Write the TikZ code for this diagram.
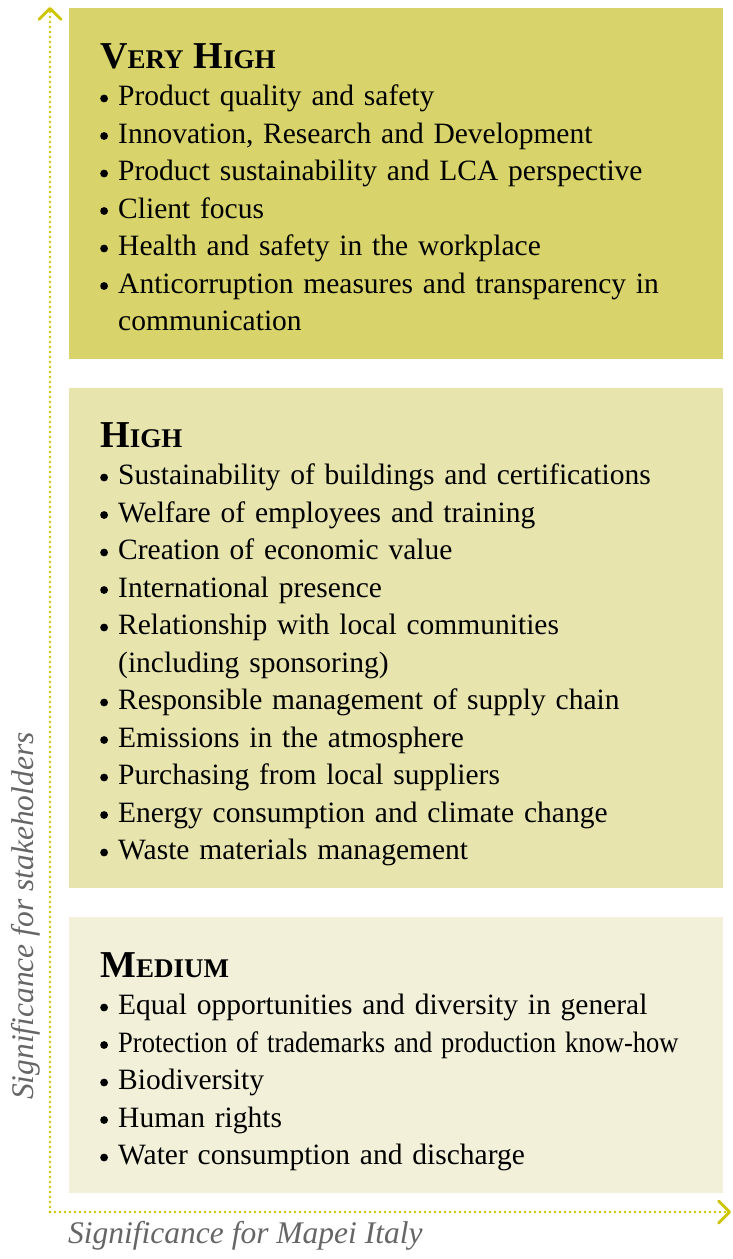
\documentclass[tikz,border=0pt]{standalone}
\usepackage{fontspec}
\setmainfont{Liberation Serif}
\usepackage{xcolor}
\usepackage{graphicx}
\usepackage{tikz}
\usetikzlibrary{arrows.meta,calc,positioning}
\definecolor{vhfill}{HTML}{D8D36A}
\definecolor{hifill}{HTML}{E7E4AE}
\definecolor{mdfill}{HTML}{F2F0D8}
\definecolor{axisyel}{HTML}{CFC400}
\definecolor{labgray}{HTML}{666666}
\newcommand\lvlcaps[2]{{\fontsize{38}{38}\selectfont\bfseries #1}{\fontsize{27}{27}\selectfont\bfseries #2}}
\newcommand\itmdot{\tikz[baseline={(0pt,-7pt)}]\fill (0pt,0pt) circle (3.9pt);}
\newcommand\itm[1]{\par\hangindent=18pt\hangafter=1\noindent\makebox[18pt][l]{\itmdot}#1\par}

\begin{document}
\begin{tikzpicture}[
  x=1pt,y=-1pt,
  band/.style={anchor=north west,inner sep=0pt,minimum width=654pt,draw=none},
  entry/.style={anchor=base west,inner sep=0pt,text width=620pt,align=left,
    font=\fontsize{29.5}{37.5}\selectfont},
  axis/.style={draw=axisyel,line width=2.8pt,line cap=round,dash pattern=on 0pt off 5pt,
    -{Straight Barb[length=11pt,width=22pt,round]}},
  axlab/.style={inner sep=0pt,text=labgray,font=\fontsize{31.5}{31.5}\selectfont\itshape}
]
\useasboundingbox (0,0) rectangle (732,1259);
% the three bands
\node[band,fill=vhfill,minimum height=351pt] (vhbox) at (69,8) {};
\node[band,fill=hifill,minimum height=500pt] (hibox) at (69,388) {};
\node[band,fill=mdfill,minimum height=276pt] (mdbox) at (69,917) {};
% lists
\node[entry] (vhlist) at (100,68) {\lvlcaps{V}{ERY} \lvlcaps{H}{IGH}
  \itm{Product quality and safety}
  \itm{Innovation, Research and Development}
  \itm{Product sustainability and LCA perspective}
  \itm{Client focus}
  \itm{Health and safety in the workplace}
  \itm{Anticorruption measures and transparency in\newline communication}};
\node[entry] (hilist) at (100,447) {\lvlcaps{H}{IGH}
  \itm{Sustainability of buildings and certifications}
  \itm{Welfare of employees and training}
  \itm{Creation of economic value}
  \itm{International presence}
  \itm{Relationship with local communities\newline (including sponsoring)}
  \itm{Responsible management of supply chain}
  \itm{Emissions in the atmosphere}
  \itm{Purchasing from local suppliers}
  \itm{Energy consumption and climate change}
  \itm{Waste materials management}};
\node[entry] (mdlist) at (100,977) {\lvlcaps{M}{EDIUM}
  \itm{Equal opportunities and diversity in general}
  \itm{\scalebox{0.9}[1]{Protection of trademarks and production know-how}}
  \itm{Biodiversity}
  \itm{Human rights}
  \itm{Water consumption and discharge}};
% axes
\coordinate (origin) at (50,1212);
\coordinate (ytop) at (50,7);
\coordinate (xend) at (731,1212);
\draw[axis] (origin) -- (ytop);
\draw[axis] (origin) -- (xend);
\node[axlab,rotate=90,anchor=base west] (ylab) at (34,1100) {Significance for stakeholders};
\node[axlab,anchor=base west] (xlab) at (68,1243) {Significance for Mapei Italy};
\end{tikzpicture}
\end{document}
